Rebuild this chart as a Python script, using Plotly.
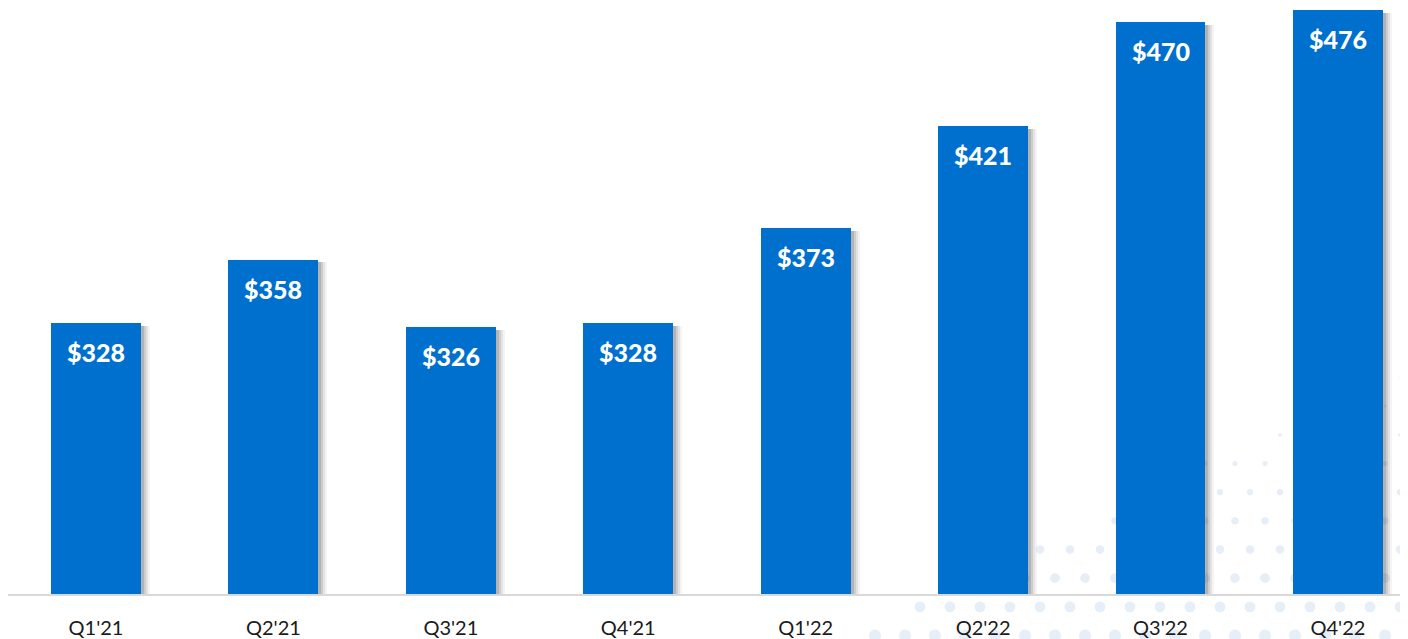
import plotly.graph_objects as go

categories = ["Q1'21", "Q2'21", "Q3'21", "Q4'21", "Q1'22", "Q2'22", "Q3'22", "Q4'22"]
values = [328, 358, 326, 328, 373, 421, 470, 476]
labels = ["$328", "$358", "$326", "$328", "$373", "$421", "$470", "$476"]

BAR_COLOR = "#0070CE"
# page has an 8px body margin; figure occupies page x 8..1408, y 8..639
W, H = 1400, 631
ML, MR, MT, MB = 0, 0, 0, 38
X_RANGE = [-0.496, 7.395]
Y_RANGE = [200, 476.8]
BAR_W = 0.507

px_x = (X_RANGE[1] - X_RANGE[0]) / (W - ML - MR)
px_y = (Y_RANGE[1] - Y_RANGE[0]) / (H - MT - MB)

xs = list(range(len(categories)))
fig = go.Figure()

# soft drop-shadow layers to the right of each bar
shadow_layers = [(9, 0.06), (7, 0.09), (5, 0.13), (3, 0.18)]
for dx, op in shadow_layers:
    fig.add_trace(go.Bar(
        x=xs, y=[v - Y_RANGE[0] - 3 * px_y for v in values], base=Y_RANGE[0],
        width=BAR_W, offset=-BAR_W / 2 + dx * px_x,
        marker=dict(color=f"rgba(60,60,60,{op})", line=dict(width=0)),
        hoverinfo="skip", showlegend=False,
    ))

fig.add_trace(go.Bar(
    x=xs, y=[v - Y_RANGE[0] for v in values], base=Y_RANGE[0],
    width=BAR_W, offset=-BAR_W / 2,
    marker=dict(color=BAR_COLOR, line=dict(width=0)),
    showlegend=False, cliponaxis=False,
))

for x, v, t in zip(xs, values, labels):
    fig.add_annotation(
        x=x, y=v, text=t, showarrow=False, xanchor="center", yanchor="top",
        yshift=-12, font=dict(family="Lato", size=25, color="white", weight=900),
    )

# faint decorative dot pattern in the lower right background
PAGE_OFF = 8
shapes = []
row = 0
y = 382
while y < PAGE_OFF + H + 10:
    stagger = 15 if row % 2 else 0
    x = 860 + stagger
    t = (y - 380) / 260.0
    d = 1.5 + 10.5 * t
    while x < PAGE_OFF + W + 10:
        if x > 1400 - (y - 370) * 2.0:
            cx, cy = x - PAGE_OFF, y - PAGE_OFF
            shapes.append(dict(
                type="circle", xref="paper", yref="paper", layer="below",
                x0=(cx - d / 2 - ML) / (W - ML - MR), x1=(cx + d / 2 - ML) / (W - ML - MR),
                y0=(H - MB - cy - d / 2) / (H - MT - MB), y1=(H - MB - cy + d / 2) / (H - MT - MB),
                fillcolor="rgba(205,222,242,0.5)", line=dict(width=0),
            ))
        x += 30
    y += 29
    row += 1

fig.update_layout(
    width=W, height=H,
    margin=dict(l=ML, r=MR, t=MT, b=MB),
    paper_bgcolor="white", plot_bgcolor="rgba(0,0,0,0)",
    barmode="overlay", bargap=0,
    shapes=shapes,
    xaxis=dict(
        range=X_RANGE, tickmode="array", tickvals=xs, ticktext=categories,
        showgrid=False, zeroline=False, showline=True, linecolor="#d9d9d9", linewidth=2,
        ticks="outside", ticklen=0, ticklabelstandoff=15,
        tickfont=dict(family="Lato", size=20, color="#1a1a1a"),
    ),
    yaxis=dict(range=Y_RANGE, visible=False, showgrid=False, zeroline=False),
)

fig.write_html("out.html")
